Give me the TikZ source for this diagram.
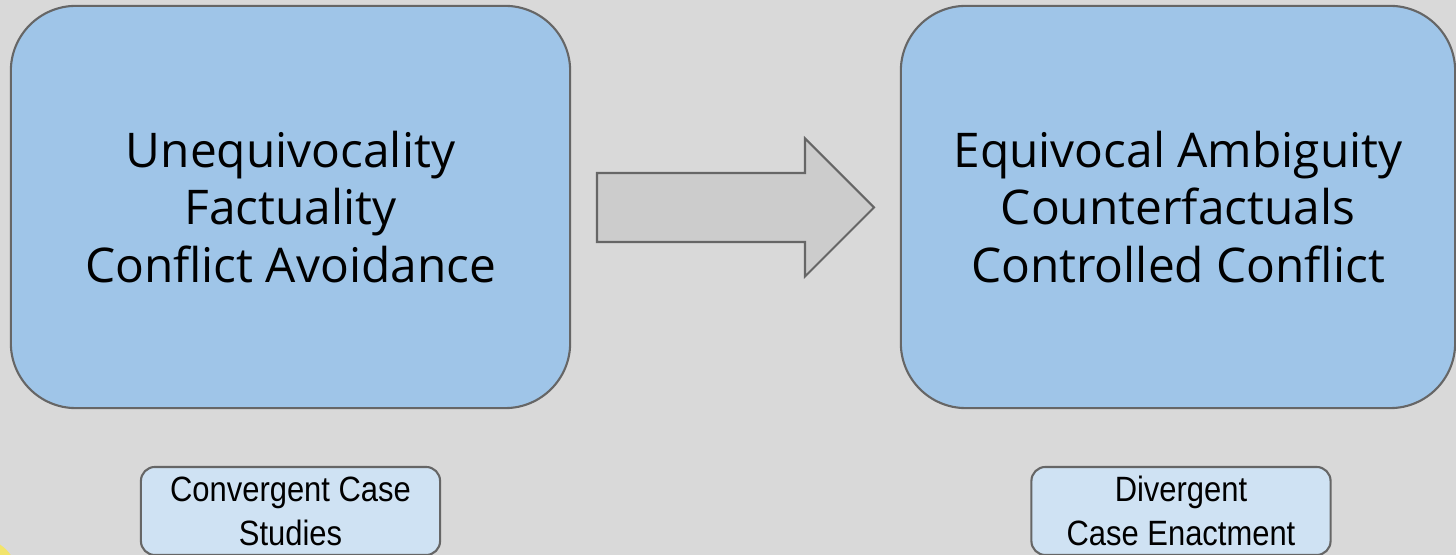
\documentclass[tikz,border=0pt]{standalone}
\usepackage{fontspec}
\setmainfont{Open Sans}
\newfontfamily\narrowfont[FakeStretch=0.88]{Liberation Sans}
\usepackage{xcolor}
\usepackage{tikz}
\usetikzlibrary{positioning,calc}
\definecolor{SlideGray}{HTML}{D9D9D9}
\definecolor{EdgeGray}{HTML}{666666}
\definecolor{BoxBlue}{HTML}{9FC5E8}
\definecolor{TagBlue}{HTML}{CFE2F3}
\definecolor{ArrowGray}{HTML}{CCCCCC}
\definecolor{MarkYellow}{HTML}{F2E46B}

\begin{document}
\begin{tikzpicture}[
        x=0.01cm, y=-0.01cm,
        % --- STYLE CHUNG ---
        bigbox/.style={
            rectangle,
            rounded corners=0.65cm,
            draw=EdgeGray,
            line width=0.6pt,
            fill=BoxBlue,
            minimum height=4.02cm,
            align=center,
            font=\fontsize{13.6pt}{16.4pt}\selectfont
        },
        % Hộp nhãn nhỏ
        tagbox/.style={
            rectangle,
            rounded corners=0.14cm,
            draw=EdgeGray,
            line width=0.6pt,
            fill=TagBlue,
            minimum width=2.99cm,
            minimum height=0.88cm,
            inner sep=0pt,
            align=center,
            font=\narrowfont\fontsize{10pt}{12.5pt}\selectfont
        },
        % Mũi tên khối
        blockarrow/.style={
            draw=EdgeGray,
            line width=0.6pt,
            fill=ArrowGray,
            line join=miter
        }
    ]

        % --- NỀN ---
        \fill[SlideGray] (0,0) rectangle (1456,555);
        \useasboundingbox (0,0) rectangle (1456,555);
        \begin{scope}
            \clip (0,0) rectangle (1456,555);
            \fill[MarkYellow] (-22,578) circle (0.4cm);
        \end{scope}

        % --- HỘP LỚN ---
        \node[bigbox, minimum width=5.59cm] (conv) at (290.5,207)
            {Unequivocality\\Factuality\\Conflict Avoidance};
        \node[bigbox, minimum width=5.54cm] (div) at (1178,207)
            {Equivocal Ambiguity\\Counterfactuals\\Controlled Conflict};

        % --- MŨI TÊN ---
        \coordinate (tail) at (597,207.5);
        \coordinate (tip) at (874,207.5);
        \draw[blockarrow] ($(tail)+(0,-34.5)$) -- ++(208,0) -- ++(0,-34.5)
            -- (tip) -- ($(tail)+(208,69)$) -- ++(0,-34.5)
            -- ($(tail)+(0,34.5)$) -- cycle;

        % --- NHÃN ---
        \node[tagbox] (convtag) at (290.5,511) {Convergent Case\\Studies};
        \node[tagbox] (divtag) at (1181,511) {Divergent\\Case Enactment};

    \end{tikzpicture}
\end{document}
